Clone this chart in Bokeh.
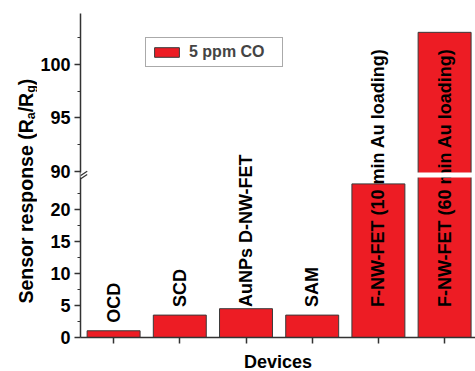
import math
from bokeh.plotting import figure
from bokeh.layouts import row
from bokeh.models import (Range1d, FixedTicker, CustomJSTickFormatter, Legend, LegendItem,
                          Arrow, BoxAnnotation, ColumnDataSource)
from bokeh.core.properties import value
from bokeh.embed import file_html
from bokeh.resources import INLINE

# ---------------- data ----------------
devices = ["OCD", "SCD", "AuNPs D-NW-FET", "SAM",
           "F-NW-FET (10 min Au loading)", "F-NW-FET (60 min Au loading)"]
response = [1.05, 3.5, 4.5, 3.5, 24.0, 103.0]
series_name = "5 ppm CO"
lower_ticks = [0, 5, 10, 15, 20]
lower_minor = [2.5, 7.5, 12.5, 17.5, 22.5]
upper_ticks = [90, 95, 100]
upper_minor = [92.5, 97.5, 102.5]
x_title = "Devices"
y_title_parts = ["Sensor response (R", "a", "/R", "g", ")"]

# ---------------- broken y scale ----------------
LOW_MAX = 25.0          # top of lower segment
HIGH_MIN = 89.9         # bottom of upper segment
GAP = 0.78              # gap between segments (lower-axis units)
HIGH_SCALE = 10.7 / 6.4 # upper segment stretched relative to lower
HIGH_BASE = LOW_MAX + GAP


def broken(v):
    if v <= LOW_MAX:
        return v
    return HIGH_BASE + (v - HIGH_MIN) * HIGH_SCALE


FW, FH = 395, 324
PX_X = 66.2
PX_Y = 6.4
x0 = 0.5
x1 = x0 + FW / PX_X
y1 = FH / PX_Y
BAR_W = 0.8

xs = list(range(1, len(devices) + 1))
tops = [broken(v) for v in response]
label_y = [min(v, 3.5) for v in response]

src = ColumnDataSource(dict(x=xs, top=tops, name=devices, ly=label_y, val=response))

FONT = "Liberation Sans"
AX = "#333333"
TW, TH = 37, 371

p = figure(frame_width=FW, frame_height=FH, x_range=Range1d(x0, x1), y_range=Range1d(0, y1),
           output_backend="svg", toolbar_location=None, title=None,
           min_border_left=80 - TW, min_border_right=0, min_border_top=13, min_border_bottom=34)
p.outline_line_color = None
p.xgrid.visible = False
p.ygrid.visible = False
p.background_fill_color = "white"
p.border_fill_color = "white"

bars = p.vbar(x="x", top="top", bottom=0, width=BAR_W, source=src,
              fill_color="#ED1C24", line_color="#3a3a3a", line_width=1)

p.text(x="x", y="ly", text="name", source=src, angle=math.pi / 2,
       text_align="left", text_baseline="middle", y_offset=-8,
       text_font=value(FONT), text_font_style="bold", text_font_size="18px",
       text_color="black")

# white gaps for the axis break: across broken bars and across the axis line
for xv, v in zip(xs, response):
    if v > LOW_MAX:
        p.add_layout(BoxAnnotation(left=xv - BAR_W / 2 - 0.02, right=xv + BAR_W / 2 + 0.02,
                                   bottom=LOW_MAX, top=HIGH_BASE,
                                   fill_color="white", fill_alpha=1.0, line_color=None))
p.add_layout(BoxAnnotation(left=x0 - 0.03, right=x0 + 0.03, bottom=LOW_MAX, top=HIGH_BASE,
                           fill_color="white", fill_alpha=1.0, line_color=None))

# break slashes
for (ya, yb) in [((337 - 179.3) / PX_Y, (337 - 170.7) / PX_Y),
                 ((337 - 182.3) / PX_Y, (337 - 174.0) / PX_Y)]:
    p.add_layout(Arrow(end=None, start=None, x_start=x0 - 6 / PX_X, y_start=ya,
                       x_end=x0 + 6.7 / PX_X, y_end=yb,
                       line_color=AX, line_width=1.2))

# y axis
yax = p.yaxis[0]
yax.ticker = FixedTicker(ticks=[broken(t) for t in lower_ticks + upper_ticks],
                         minor_ticks=[broken(t) for t in lower_minor + upper_minor])
yax.formatter = CustomJSTickFormatter(
    args=dict(lm=LOW_MAX, hm=HIGH_MIN, hb=HIGH_BASE, hs=HIGH_SCALE),
    code="const v = tick <= lm + 0.01 ? tick : hm + (tick - hb) / hs; return Math.round(v).toString();")
yax.major_label_text_font = FONT
yax.major_label_text_font_style = "bold"
yax.major_label_text_font_size = "18px"
yax.major_label_text_color = "black"
yax.major_label_standoff = 4
yax.major_tick_out = 6
yax.major_tick_in = 0
yax.minor_tick_out = 3
yax.minor_tick_in = 0
yax.axis_line_color = AX
yax.axis_line_width = 1.5
yax.major_tick_line_color = AX
yax.major_tick_line_width = 1.5
yax.minor_tick_line_color = AX
yax.minor_tick_line_width = 1.2

# x axis
xax = p.xaxis[0]
xax.ticker = FixedTicker(ticks=xs, minor_ticks=[])
xax.major_label_overrides = {xv: "" for xv in xs}
xax.major_label_standoff = 0
xax.major_tick_out = 6
xax.major_tick_in = 0
xax.axis_line_color = AX
xax.axis_line_width = 1.5
xax.major_tick_line_color = AX
xax.major_tick_line_width = 1.5
xax.axis_label = x_title
xax.axis_label_text_font = FONT
xax.axis_label_text_font_style = "bold"
xax.axis_label_text_font_size = "18px"
xax.axis_label_text_color = "black"
xax.axis_label_standoff = 8

legend = Legend(items=[LegendItem(label=series_name, renderers=[bars])],
                location=(65, 270), orientation="vertical")
legend.label_text_font = FONT
legend.label_text_font_style = "bold"
legend.label_text_font_size = "16px"
legend.glyph_width = 31
legend.glyph_height = 12
legend.padding = 5
legend.margin = 0
legend.label_standoff = 7
legend.label_width = 88
legend.spacing = 0
legend.border_line_color = "#555555"
legend.border_line_width = 1
legend.background_fill_alpha = 1.0
p.add_layout(legend, "center")

# ---------------- y title panel (with subscripts) ----------------
t = figure(frame_width=TW, frame_height=TH, x_range=Range1d(0, TW), y_range=Range1d(0, TH),
           output_backend="svg", toolbar_location=None, title=None,
           min_border_left=0, min_border_right=0, min_border_top=0, min_border_bottom=0,
           x_axis_location=None, y_axis_location=None)
t.outline_line_color = None
t.xgrid.visible = False
t.ygrid.visible = False
t.border_fill_color = "white"

MAIN, SUB = 19.5, 12.5
sizes = [MAIN, SUB, MAIN, SUB, MAIN]
widths_em = [9.447, 0.556, 1.0, 0.611, 0.333]
pos = TH - 290.0
py, px, fs = [], [], []
for part, sz, wem in zip(y_title_parts, sizes, widths_em):
    sub = sz < MAIN
    py.append(pos)
    px.append(30.0 if sub else 25.0)
    fs.append(f"{sz}px")
    pos += wem * sz
tsrc = ColumnDataSource(dict(x=px, y=py, text=y_title_parts, fs=fs))
t.text(x="x", y="y", text="text", source=tsrc, angle=math.pi / 2,
       text_align="left", text_baseline="middle",
       text_font=value(FONT), text_font_style="bold", text_font_size="fs",
       text_color="black")

layout = row(t, p, spacing=0)
open("out.html", "w").write(file_html(layout, INLINE))
